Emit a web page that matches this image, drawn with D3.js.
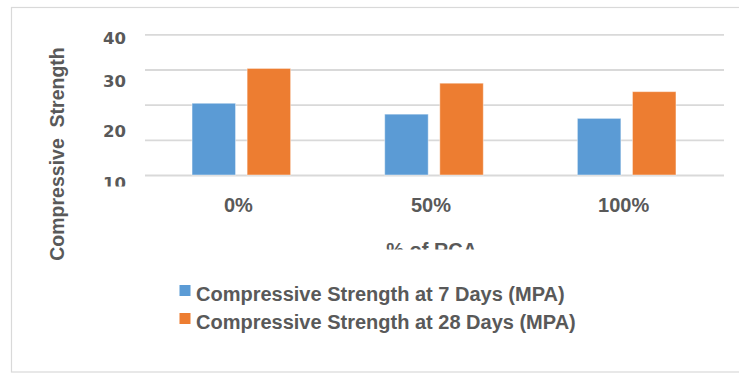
<!DOCTYPE html>
<html>
<head>
<meta charset="utf-8">
<script src="https://cdn.jsdelivr.net/npm/d3@7/dist/d3.min.js"></script>
<style>
  html, body { margin: 0; padding: 0; background: #fff; }
  svg { display: block; }
  text { fill: #595959; font-family: "Liberation Sans", Arial, sans-serif; font-weight: bold; }
</style>
</head>
<body>
<script>
// Compressive strength of concrete by recycled coarse aggregate (RCA) replacement
const categories = ["0%", "50%", "100%"];
const seriesNames = [
  "Compressive Strength at 7 Days (MPA)",
  "Compressive Strength at 28 Days (MPA)"
];
const strength7 = [20.4, 17.3, 16.1];
const strength28 = [30.3, 26.1, 23.7];
const gridValues = [0, 10, 20, 30, 40];
const tickLabels = [10, 20, 30, 40];
const colors = ["#5B9BD5", "#ED7D31"];

const W = 739, H = 373;
const svg = d3.select("body").append("svg").attr("width", W).attr("height", H);

// outer chart frame
svg.append("rect")
  .attr("x", 11.5).attr("y", 7.5)
  .attr("width", 760).attr("height", 364.5)
  .attr("fill", "#fff").attr("stroke", "#d9d9d9").attr("stroke-width", 1.2);

const x = d3.scaleBand().domain(categories).range([145, 723]).padding(0);
const xs = d3.scaleBand().domain([0, 1]).range([0, x.bandwidth()])
  .paddingInner(0.21).paddingOuter(0.854);
const y = d3.scaleLinear().domain([0, 40]).range([175, 34.3]);
// label column uses its own (piecewise) spacing
const yLabel = d3.scaleLinear().domain([10, 20, 30, 40]).range([183, 131.7, 81.3, 38]);

// gridlines
const grid = svg.append("g").attr("transform", "translate(145,0)")
  .call(d3.axisLeft(y).tickValues(gridValues).tickSize(-579).tickFormat(""));
grid.select(".domain").remove();
grid.selectAll(".tick line").attr("stroke", "#d9d9d9").attr("stroke-width", 1.8);

// value tick labels
const defs = svg.append("defs");
defs.append("clipPath").attr("id", "tickClip")
  .append("rect").attr("x", 0).attr("y", 0).attr("width", 140).attr("height", 186.5);
defs.append("clipPath").attr("id", "titleClip")
  .append("rect").attr("x", 0).attr("y", 0).attr("width", W).attr("height", 249.5);

const yAx = svg.append("g").attr("clip-path", "url(#tickClip)")
  .append("g").attr("transform", "translate(126,0)")
  .call(d3.axisLeft(yLabel).tickValues(tickLabels).tickSize(0).tickPadding(0));
yAx.select(".domain").remove();
yAx.selectAll("text")
  .attr("fill", "#595959")
  .style("font-family", "'DejaVu Sans', sans-serif")
  .style("font-weight", "bold")
  .style("font-size", "16.5px");

// bars
const rows = categories.map((c, i) => ({ cat: c, vals: [strength7[i], strength28[i]] }));
const groups = svg.append("g").selectAll("g").data(rows).join("g")
  .attr("transform", d => `translate(${x(d.cat)},0)`);
groups.selectAll("rect").data(d => d.vals.map((v, k) => ({ v, k }))).join("rect")
  .attr("x", d => xs(d.k))
  .attr("width", xs.bandwidth())
  .attr("y", d => y(d.v))
  .attr("height", d => y(0) - y(d.v))
  .attr("fill", d => colors[d.k])
  .attr("stroke", "#fff").attr("stroke-opacity", 0.45).attr("stroke-width", 1);

// category axis
const xAx = svg.append("g").attr("transform", "translate(0,175)")
  .call(d3.axisBottom(x).tickSize(0).tickPadding(22.3));
xAx.select(".domain").remove();
xAx.selectAll("text")
  .attr("fill", "#595959")
  .attr("dx", -3)
  .style("font-family", "'Liberation Sans', Arial, sans-serif")
  .style("font-weight", "bold")
  .style("font-size", "20px");

// axis titles
svg.append("g").attr("clip-path", "url(#titleClip)")
  .append("text")
  .attr("x", 431.7).attr("y", 256.8)
  .attr("text-anchor", "middle")
  .style("font-size", "20px")
  .text("% of RCA");

svg.append("text")
  .attr("transform", "translate(64,154) rotate(-90)")
  .attr("text-anchor", "middle")
  .style("font-size", "19.5px")
  .style("white-space", "pre")
  .text("Compressive  Strength");

// legend
const legend = svg.append("g").selectAll("g").data(seriesNames).join("g")
  .attr("transform", (d, i) => `translate(179.5,${285 + i * 28})`);
legend.append("rect").attr("width", 11).attr("height", 11)
  .attr("fill", (d, i) => colors[i]);
legend.append("text").attr("x", 16.5).attr("y", 15.7)
  .style("font-size", "20px")
  .text(d => d);
</script>
</body>
</html>
